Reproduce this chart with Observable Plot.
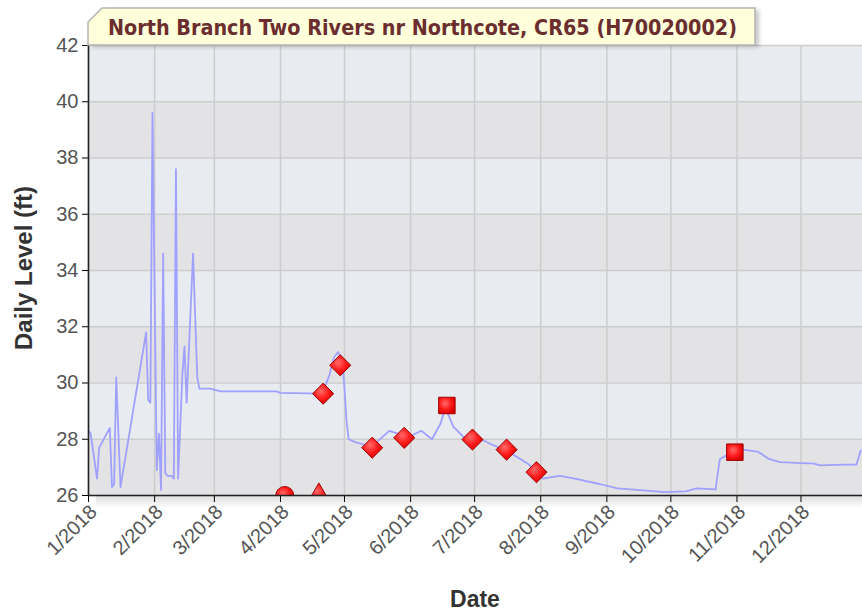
<!DOCTYPE html>
<html><head><meta charset="utf-8">
<script src="https://cdn.jsdelivr.net/npm/d3@7"></script>
<script src="https://cdn.jsdelivr.net/npm/@observablehq/plot@0.6"></script>
<style>
html,body{margin:0;padding:0;background:#fff;}
#chart{position:relative;width:862px;height:613px;overflow:hidden;}
</style></head><body><div id="chart"></div>
<script>
const titleText = "North Branch Two Rivers nr Northcote, CR65 (H70020002)";
const yLabel = "Daily Level (ft)";
const xLabel = "Date";
const yTicks = [26, 28, 30, 32, 34, 36, 38, 40, 42];
const monthTicks = ["2018-01-01","2018-02-01","2018-03-01","2018-04-01","2018-05-01","2018-06-01",
  "2018-07-01","2018-08-01","2018-09-01","2018-10-01","2018-11-01","2018-12-01"];
const xStart = "2018-01-01", xEnd = "2018-12-29T20:00:00Z";

const lineDates = ["2018-01-01","2018-01-02","2018-01-05","2018-01-06","2018-01-11","2018-01-12","2018-01-13","2018-01-14",
  "2018-01-16","2018-01-28","2018-01-29","2018-01-30","2018-01-31","2018-02-02","2018-02-03","2018-02-04","2018-02-05",
  "2018-02-06","2018-02-07","2018-02-09","2018-02-10","2018-02-11","2018-02-12","2018-02-14","2018-02-15","2018-02-16",
  "2018-02-19","2018-02-21","2018-02-22","2018-02-27","2018-03-04","2018-03-30","2018-04-01","2018-04-20","2018-04-22",
  "2018-04-24","2018-04-26","2018-04-28","2018-04-30","2018-05-01","2018-05-02","2018-05-03","2018-05-06","2018-05-09",
  "2018-05-13","2018-05-17","2018-05-22","2018-05-26","2018-05-29","2018-06-02","2018-06-06","2018-06-11","2018-06-15",
  "2018-06-17","2018-06-18","2018-06-21","2018-06-26","2018-07-04","2018-07-10","2018-07-16","2018-07-26","2018-08-02",
  "2018-08-06","2018-08-10","2018-08-17","2018-08-29","2018-09-06","2018-09-18","2018-09-28","2018-10-08","2018-10-13",
  "2018-10-22","2018-10-23","2018-10-24","2018-10-30","2018-11-04","2018-11-11","2018-11-16","2018-11-21","2018-12-07",
  "2018-12-10","2018-12-21","2018-12-27","2018-12-29"];
const lineLevels = [28.3,28.2,26.6,27.7,28.4,26.3,26.4,30.2,
  26.3,31.8,29.4,29.3,39.6,26.9,28.2,26.2,34.6,
  26.8,26.7,26.7,26.6,37.6,26.6,30.3,31.3,29.3,
  34.6,30.2,29.8,29.8,29.7,29.7,29.65,29.62,29.9,
  30.3,30.9,31.1,30.8,29.8,28.6,28.0,27.9,27.84,
  27.72,27.96,28.3,28.2,28.07,28.15,28.3,28.0,28.55,
  29.05,29.0,28.45,28.07,28.0,27.78,27.6,27.13,26.6,
  26.65,26.7,26.6,26.4,26.25,26.18,26.12,26.15,26.25,
  26.22,26.8,27.3,27.55,27.63,27.55,27.3,27.19,27.13,
  27.07,27.1,27.1,27.6];

const diamondDates = ["2018-04-21","2018-04-29","2018-05-14","2018-05-29","2018-06-30","2018-07-16","2018-07-30"];
const diamondLevels = [29.62, 30.63, 27.7, 28.05, 27.99, 27.63, 26.83];
const squareDates = ["2018-06-18","2018-10-31"];
const squareLevels = [29.2, 27.54];
const circleDates = ["2018-04-03"];
const circleLevels = [26.0];
const triangleDates = ["2018-04-19"];
const triangleLevels = [25.95];

const toRows = (ds, vs) => ds.map((d, i) => ({date: new Date(d), level: vs[i]}));
const lineData = toRows(lineDates, lineLevels);
const bands = yTicks.slice(0, -1).map((v, i) => ({y1: v, y2: yTicks[i + 1], dark: i % 2 === 0}));
const x0 = new Date(xStart), x1 = new Date(xEnd);
const months = monthTicks.map(d => new Date(d));
const fmt = d => `${d.getUTCMonth() + 1}/${d.getUTCFullYear()}`;

const markerStyle = {x: "date", y: "level", r: 9, fill: "url(#redGrad)", stroke: "#a00000", strokeWidth: 1, clip: true};

const plot = Plot.plot({
  width: 862, height: 613,
  marginLeft: 88, marginRight: 0, marginTop: 45, marginBottom: 118,
  style: {fontFamily: "'Liberation Sans', Arial, sans-serif", background: "transparent", overflow: "visible"},
  x: {type: "utc", domain: [x0, x1]},
  y: {domain: [26, 42]},
  marks: [
    Plot.rect(bands.filter(b => b.dark), {x1: () => x0, x2: () => x1, y1: "y1", y2: "y2", fill: "#e3e3e6"}),
    Plot.rect(bands.filter(b => !b.dark), {x1: () => x0, x2: () => x1, y1: "y1", y2: "y2", fill: "#e8ebef"}),
    Plot.gridX(months, {stroke: "#cdcdcd", strokeOpacity: 1, strokeWidth: 1.5}),
    Plot.gridY(yTicks, {stroke: "#cdcdcd", strokeOpacity: 1, strokeWidth: 1.5}),
    Plot.line(lineData, {x: "date", y: "level", stroke: "#a0a0ff", strokeWidth: 1.8, clip: true}),
    Plot.dot(toRows(circleDates, circleLevels), {...markerStyle, symbol: "circle"}),
    Plot.dot(toRows(triangleDates, triangleLevels), {...markerStyle, symbol: "triangle"}),
    Plot.dot(toRows(diamondDates, diamondLevels), {...markerStyle, symbol: "diamond2", r: 9.5}),
    Plot.dot(toRows(squareDates, squareLevels), {...markerStyle, symbol: "square", r: 9.3}),
    Plot.axisY(yTicks, {tickSize: 6, tickPadding: 4, fontSize: 20, fill: "#555", stroke: "#000", label: null}),
    Plot.axisX(months, {tickSize: 7, tickFormat: () => "", stroke: "#000", label: null}),
    Plot.axisX(months, {tickSize: 0, tickPadding: 10, tickRotate: -45, dx: 5, dy: 3, fontSize: 20, fill: "#555", tickFormat: fmt, label: null}),
    Plot.ruleX([x0], {stroke: "#222", strokeWidth: 1.6}),
    Plot.ruleY([26], {stroke: "#222", strokeWidth: 1.6})
  ]
});

document.getElementById("chart").appendChild(plot);
const svg = d3.select(plot);

// defs
const defs = svg.append("defs");
const rg = defs.append("radialGradient").attr("id", "redGrad").attr("cx", "40%").attr("cy", "38%").attr("r", "65%");
rg.append("stop").attr("offset", "0%").attr("stop-color", "#ff6a6a");
rg.append("stop").attr("offset", "55%").attr("stop-color", "#ff1c1c");
rg.append("stop").attr("offset", "100%").attr("stop-color", "#d80000");
const sg = defs.append("linearGradient").attr("id", "shadowGrad").attr("x1", 0).attr("y1", 0).attr("x2", 0).attr("y2", 1);
sg.append("stop").attr("offset", "0%").attr("stop-color", "#000").attr("stop-opacity", 0.13);
sg.append("stop").attr("offset", "100%").attr("stop-color", "#000").attr("stop-opacity", 0);
defs.append("filter").attr("id", "blur").attr("x", "-10%").attr("y", "-50%").attr("width", "120%").attr("height", "200%")
  .append("feGaussianBlur").attr("stdDeviation", 2);

// shadow under plot area
svg.append("rect").attr("x", 96).attr("y", 496).attr("width", 766).attr("height", 12).attr("fill", "url(#shadowGrad)").lower();

// title box
const tb = svg.append("g");
const boxPts = [[88, 22], [102, 8], [755, 8], [755, 45], [88, 45]];
tb.append("polygon").attr("points", boxPts.map(p => [p[0] + 4, p[1] + 2].join(",")).join(" "))
  .attr("fill", "rgba(0,0,0,0.22)").attr("filter", "url(#blur)");
tb.append("polygon").attr("points", boxPts.map(p => p.join(",")).join(" "))
  .attr("fill", "#ffffdc").attr("stroke", "#b4b4b4").attr("stroke-width", 1.5);
const tt = tb.append("text").attr("x", 422.5).attr("y", 35).attr("text-anchor", "middle")
  .attr("font-family", "'DejaVu Sans Condensed', 'DejaVu Sans', Verdana, sans-serif")
  .attr("font-weight", "bold").attr("font-size", 18).attr("fill", "#6b2d2d").text(titleText);
const len = tt.node().getComputedTextLength();
if (len > 0) tt.attr("font-size", (18 * 629 / len).toFixed(2));

// axis titles
svg.append("text").attr("transform", "translate(32,268) rotate(-90)").attr("text-anchor", "middle")
  .attr("font-family", "'Liberation Sans', Arial, sans-serif").attr("font-weight", "bold").attr("font-size", 24)
  .attr("fill", "#333").text(yLabel);
svg.append("text").attr("x", 475).attr("y", 607).attr("text-anchor", "middle")
  .attr("font-family", "'Liberation Sans', Arial, sans-serif").attr("font-weight", "bold").attr("font-size", 23)
  .attr("fill", "#333").text(xLabel);
</script></body></html>
